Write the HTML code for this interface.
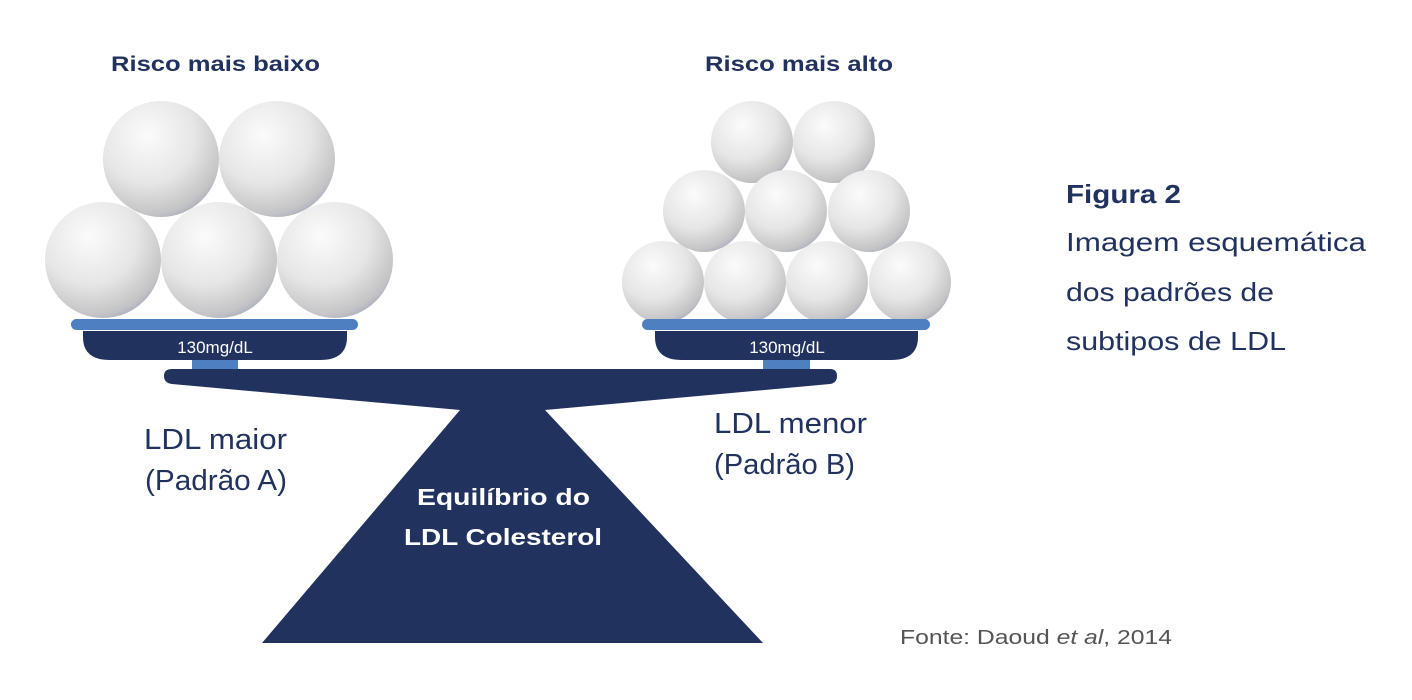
<!DOCTYPE html>
<html><head><meta charset="utf-8"><style>
body{margin:0;background:#fff;}
svg{display:block;font-family:"Liberation Sans",sans-serif;}
</style></head><body>
<svg width="1412" height="700" viewBox="0 0 1412 700" xmlns="http://www.w3.org/2000/svg">
<defs>
<radialGradient id="g" cx="0.38" cy="0.3" r="0.75">
<stop offset="0" stop-color="#fbfbfb"/>
<stop offset="0.55" stop-color="#e6e6e6"/>
<stop offset="0.9" stop-color="#c4c4c6"/>
<stop offset="1" stop-color="#aab0bd"/>
</radialGradient>
</defs>
<text x="111" y="71" font-size="21" font-weight="bold" fill="#22325f" textLength="209" lengthAdjust="spacingAndGlyphs">Risco mais baixo</text>
<text x="705" y="71" font-size="21" font-weight="bold" fill="#22325f" textLength="188" lengthAdjust="spacingAndGlyphs">Risco mais alto</text>
<g fill="url(#g)">
<circle cx="161" cy="159" r="58"/><circle cx="277" cy="159" r="58"/>
<circle cx="103" cy="260" r="58"/><circle cx="219" cy="260" r="58"/><circle cx="335" cy="260" r="58"/>
<circle cx="752" cy="142" r="41"/><circle cx="834" cy="142" r="41"/>
<circle cx="704" cy="211" r="41"/><circle cx="786" cy="211" r="41"/><circle cx="869" cy="211" r="41"/>
<circle cx="663" cy="282" r="41"/><circle cx="745" cy="282" r="41"/><circle cx="827" cy="282" r="41"/><circle cx="910" cy="282" r="41"/>
</g>
<rect x="71" y="319" width="287" height="11" rx="5.5" fill="#4e7fc0"/>
<path d="M83 331 H347 V337 Q347 360 320 360 H110 Q83 360 83 337 Z" fill="#22325f"/>
<rect x="192" y="360" width="46" height="10" fill="#4e7fc0"/>
<text x="215" y="353" text-anchor="middle" font-size="17" fill="#fff">130mg/dL</text>
<rect x="642" y="319" width="288" height="11" rx="5.5" fill="#4e7fc0"/>
<path d="M655 331 H918 V337 Q918 360 891 360 H682 Q655 360 655 337 Z" fill="#22325f"/>
<rect x="763" y="360" width="47" height="10" fill="#4e7fc0"/>
<text x="787" y="353" text-anchor="middle" font-size="17" fill="#fff">130mg/dL</text>
<path d="M172 369 H830 Q837 369 837 376 Q837 383 830 384 L545 410 L763 643 H262 L460 410 L172 384 Q164 383 164 376 Q164 369 172 369 Z" fill="#22325f"/>
<text x="417" y="505" font-size="23" font-weight="bold" fill="#fff" textLength="173" lengthAdjust="spacingAndGlyphs">Equilíbrio do</text>
<text x="404" y="545" font-size="23" font-weight="bold" fill="#fff" textLength="198" lengthAdjust="spacingAndGlyphs">LDL Colesterol</text>
<text x="144" y="449" font-size="29" fill="#22325f" textLength="143" lengthAdjust="spacingAndGlyphs">LDL maior</text>
<text x="145" y="490" font-size="29" fill="#22325f" textLength="142" lengthAdjust="spacingAndGlyphs">(Padrão A)</text>
<text x="714" y="433" font-size="29" fill="#22325f" textLength="153" lengthAdjust="spacingAndGlyphs">LDL menor</text>
<text x="714" y="474" font-size="29" fill="#22325f" textLength="141" lengthAdjust="spacingAndGlyphs">(Padrão B)</text>
<text x="1066" y="203" font-size="26" font-weight="bold" fill="#22325f" textLength="115" lengthAdjust="spacingAndGlyphs">Figura 2</text>
<text x="1066" y="251" font-size="26" fill="#22325f" textLength="300" lengthAdjust="spacingAndGlyphs">Imagem esquemática</text>
<text x="1066" y="301" font-size="26" fill="#22325f" textLength="208" lengthAdjust="spacingAndGlyphs">dos padrões de</text>
<text x="1066" y="350" font-size="26" fill="#22325f" textLength="220" lengthAdjust="spacingAndGlyphs">subtipos de LDL</text>
<text x="900" y="644" font-size="20" fill="#555" textLength="272" lengthAdjust="spacingAndGlyphs">Fonte: Daoud <tspan font-style="italic">et al</tspan>, 2014</text>
</svg>
</body></html>
